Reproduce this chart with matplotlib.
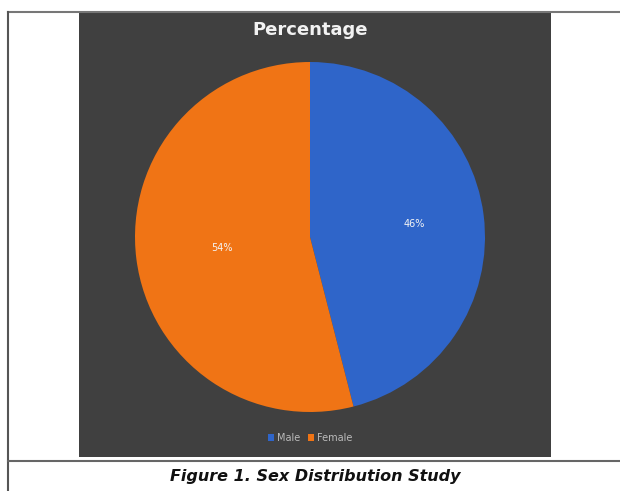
import matplotlib.pyplot as plt
from matplotlib.lines import Line2D
from matplotlib.patches import Patch

# Data
labels = ["Male", "Female"]
shares = [46, 54]
colors = ["#2F65C9", "#F07415"]

W, H = 620, 491
fig = plt.figure(figsize=(W / 100, H / 100), dpi=100)
fig.patch.set_facecolor("white")

def fx(x):
    return x / W

def fy(y):
    return 1 - y / H

# table borders
fig.add_artist(Line2D([fx(8), 1.0], [fy(12), fy(12)], color="#777777", lw=1.5))
fig.add_artist(Line2D([fx(8), fx(8)], [fy(12), 0.0], color="#555555", lw=1.5))
fig.add_artist(Line2D([fx(8), 1.0], [fy(461), fy(461)], color="#666666", lw=1.5))

# dark chart panel
panel = fig.add_axes([fx(79), fy(457), fx(551) - fx(79), fy(13) - fy(457)])
panel.set_facecolor("#404040")
panel.set_xticks([])
panel.set_yticks([])
for s in panel.spines.values():
    s.set_visible(False)

fig.text(fx(310), fy(30), "Percentage", color="#F2F2F2", fontsize=13,
         fontweight="bold", ha="center", va="center")

# pie
r = 175
ax = fig.add_axes([fx(310 - r), fy(237 + r), fx(2 * r), fy(237 - r) - fy(237 + r)])
wedges, texts, autotexts = ax.pie(shares, colors=colors, startangle=90, counterclock=False,
                                  autopct="%d%%", pctdistance=0.6,
                                  textprops=dict(color="#F4F4F4", fontsize=7))
# female label sits a little closer to the centre, as in the original
px, py = autotexts[1].get_position()
autotexts[1].set_position((px * 0.85, py * 0.85))
ax.set_xlim(-1, 1)
ax.set_ylim(-1, 1)
ax.set_aspect("equal")
ax.axis("off")

# legend
handles = [Patch(facecolor=c, edgecolor="none") for c in colors]
fig.legend(handles, labels, loc="center", bbox_to_anchor=(fx(310), fy(438)), ncol=2,
           frameon=False, fontsize=7, labelcolor="#BBBBBB", handlelength=0.6,
           handleheight=0.6, handletextpad=0.3, columnspacing=0.8)

# caption
fig.text(fx(315), fy(476), "Figure 1. Sex Distribution Study", fontsize=11.5,
         fontweight="bold", fontstyle="italic", ha="center", va="center", color="#111111")

plt.savefig("out.png", dpi=100)
